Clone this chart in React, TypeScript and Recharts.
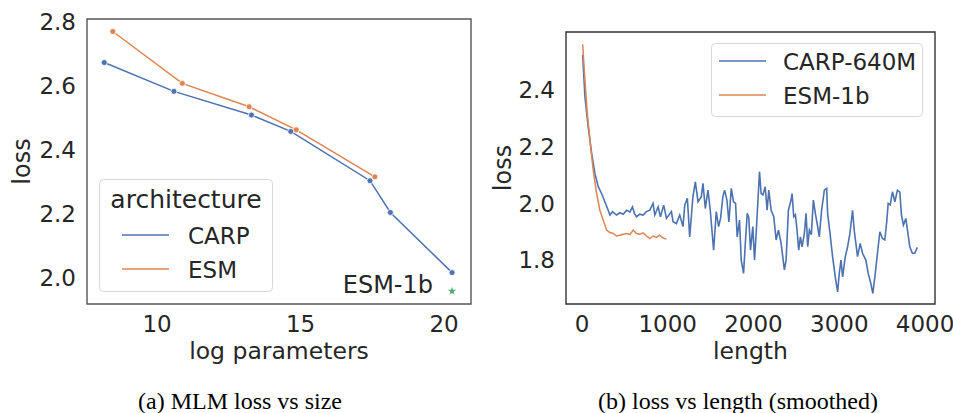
import {
  ComposedChart,
  LineChart,
  Line,
  XAxis,
  YAxis,
  Scatter,
  ReferenceArea,
  ReferenceDot,
  Legend,
  Label,
  Symbols,
} from "recharts"

// (a) MLM loss vs size
const carpLogParams = [8.16, 10.59, 13.29, 14.66, 17.42, 18.13, 20.28]
const carpLoss = [2.673, 2.583, 2.509, 2.458, 2.304, 2.205, 2.017]
const esmLogParams = [8.46, 10.88, 13.21, 14.85, 17.59]
const esmLoss = [2.77, 2.608, 2.535, 2.463, 2.316]
const esm1bLogParams = [20.28]
const esm1bLoss = [1.959]
const sizeTicksX = [10, 15, 20]
const sizeTicksY = [2.0, 2.2, 2.4, 2.6, 2.8]

// (b) loss vs length (smoothed)
const carpLength = [
  8, 35, 73, 113, 151, 190, 229, 267, 306, 326, 357, 403, 442, 481, 520, 560, 589, 612, 636, 674,
  713, 752, 791, 829, 849, 888, 915, 953, 985, 1043, 1062, 1101, 1140, 1178, 1198, 1229, 1256, 1275,
  1294, 1322, 1353, 1392, 1411, 1438, 1469, 1496, 1535, 1566, 1593, 1616, 1643, 1663, 1690, 1713,
  1741, 1767, 1791, 1810, 1837, 1857, 1884, 1907, 1927, 1945, 1965, 1992, 2012, 2031, 2050, 2070,
  2089, 2110, 2136, 2159, 2178, 2206, 2236, 2264, 2291, 2322, 2360, 2380, 2407, 2438, 2450, 2469,
  2488, 2504, 2527, 2547, 2566, 2593, 2613, 2632, 2651, 2674, 2698, 2721, 2748, 2767, 2794, 2826,
  2853, 2864, 2892, 2922, 2953, 2981, 3000, 3020, 3039, 3070, 3097, 3124, 3155, 3174, 3213, 3244,
  3271, 3310, 3337, 3368, 3391, 3415, 3445, 3473, 3504, 3531, 3555, 3570, 3593, 3620, 3648, 3678,
  3706, 3725, 3748, 3776, 3795, 3822, 3852, 3880, 3910,
]
const carpLengthLoss = [
  2.524, 2.376, 2.27, 2.177, 2.106, 2.059, 2.035, 2.006, 1.976, 1.959, 1.971, 1.959, 1.967, 1.962,
  1.976, 1.97, 1.988, 1.965, 1.953, 1.962, 1.959, 1.971, 1.976, 2.0, 1.959, 1.988, 1.953, 1.994,
  1.947, 1.971, 1.935, 1.929, 1.959, 1.918, 1.994, 2.018, 1.882, 1.953, 2.024, 2.076, 2.006, 2.024,
  2.071, 1.982, 2.047, 1.976, 1.835, 1.971, 1.918, 1.947, 2.024, 2.047, 2.012, 1.935, 2.053, 2.006,
  2.0, 1.882, 1.941, 1.8, 1.753, 1.871, 1.965, 1.95, 1.835, 1.918, 1.8, 1.894, 2.0, 2.112, 2.035,
  2.03, 2.059, 1.976, 2.047, 1.976, 1.953, 1.871, 1.906, 1.859, 1.765, 1.8, 1.976, 2.012, 2.035,
  1.953, 1.96, 1.918, 1.835, 1.882, 1.847, 1.894, 1.965, 1.847, 1.906, 1.89, 2.012, 1.965, 1.918,
  1.882, 1.976, 2.047, 2.053, 1.965, 1.894, 1.812, 1.741, 1.688, 1.753, 1.8, 1.741, 1.812, 1.847,
  1.894, 1.976, 1.906, 1.812, 1.859, 1.824, 1.8, 1.753, 1.718, 1.682, 1.741, 1.824, 1.9, 1.876,
  1.871, 1.941, 2.0, 1.995, 2.041, 2.006, 2.047, 2.04, 1.959, 1.924, 1.947, 1.906, 1.847, 1.824,
  1.824, 1.845,
]
const esmLength = [
  8, 35, 62, 93, 131, 171, 209, 248, 287, 326, 364, 403, 442, 481, 520, 559, 597, 636, 675, 713,
  752, 791, 830, 868, 907, 946, 985,
]
const esmLengthLoss = [
  2.562, 2.435, 2.318, 2.224, 2.118, 2.035, 1.976, 1.941, 1.906, 1.897, 1.894, 1.885, 1.888, 1.891,
  1.894, 1.89, 1.906, 1.894, 1.891, 1.896, 1.885, 1.876, 1.885, 1.88, 1.888, 1.878, 1.874,
]
const lengthTicksX = [0, 1000, 2000, 3000, 4000]
const lengthTicksY = [1.8, 2.0, 2.2, 2.4]

const FONT = "'DejaVu Sans', sans-serif"
const INK = "#262626"
const BLUE = "#4c72b0"
const ORANGE = "#dd8452"
const GREEN = "#55a868"

const zip = (xs: number[], ys: number[]) => xs.map((x, i) => ({ x, y: ys[i] }))

const carpSize = zip(carpLogParams, carpLoss)
const esmSize = zip(esmLogParams, esmLoss)
const esm1bSize = zip(esm1bLogParams, esm1bLoss)
const carpLen = zip(carpLength, carpLengthLoss)
const esmLen = zip(esmLength, esmLengthLoss)

const sizeX: [number, number] = [7.56, 20.94]
const sizeY: [number, number] = [1.919, 2.809]
const lenX: [number, number] = [-186, 4116]
const lenY: [number, number] = [1.645, 2.605]

const tickStyle = { fill: INK, fontSize: 23, fontFamily: FONT }
const labelStyle = { fill: INK, fontSize: 23.5, fontFamily: FONT }

type LegendBox = {
  width: number
  height: number
  title?: string
  titleY?: number
  rowY: number[]
  lineX: [number, number]
  textX: number
}

function makeLegend(box: LegendBox) {
  return (props: any) => {
    const items = (props.payload || []).filter((p: any) => p.type !== "none")
    return (
      <svg width={box.width} height={box.height} style={{ display: "block" }}>
        <rect
          x={0.5}
          y={0.5}
          width={box.width - 1}
          height={box.height - 1}
          rx={4}
          fill="#fff"
          fillOpacity={0.8}
          stroke="#d6d6d6"
        />
        {box.title && (
          <text x={box.width / 2} y={box.titleY} textAnchor="middle" fontSize={25} fontFamily={FONT} fill={INK}>
            {box.title}
          </text>
        )}
        {items.map((item: any, i: number) => (
          <g key={item.value}>
            <line x1={box.lineX[0]} x2={box.lineX[1]} y1={box.rowY[i]} y2={box.rowY[i]} stroke={item.color} strokeWidth={1.5} />
            <text x={box.textX} y={box.rowY[i] + 8.5} fontSize={23} fontFamily={FONT} fill={INK}>
              {item.value}
            </text>
          </g>
        ))}
      </svg>
    )
  }
}

const sizeLegend = makeLegend({
  width: 174,
  height: 113,
  title: "architecture",
  titleY: 29,
  rowY: [56, 90],
  lineX: [23, 70],
  textX: 89,
})

const lengthLegend = makeLegend({
  width: 212,
  height: 74,
  rowY: [18, 52],
  lineX: [8, 55],
  textX: 72,
})

export default function App() {
  return (
    <div style={{ position: "absolute", left: 0, top: 0, width: 953, height: 413, background: "#fff" }}>
      <div style={{ position: "absolute", left: 0, top: 0 }}>
        <ComposedChart width={480} height={364} margin={{ top: 19, right: 9, left: 0, bottom: 0 }}>
          <XAxis
            type="number"
            dataKey="x"
            domain={sizeX}
            ticks={sizeTicksX}
            allowDataOverflow
            height={60}
            tickLine={false}
            axisLine={false}
            tickSize={0}
            tickMargin={12}
            tick={tickStyle}
          >
            <Label value="log parameters" position="insideBottom" offset={5} style={labelStyle} />
          </XAxis>
          <YAxis
            type="number"
            domain={sizeY}
            ticks={sizeTicksY}
            allowDataOverflow
            width={87}
            tickLine={false}
            axisLine={false}
            tickSize={0}
            tickMargin={11}
            tick={tickStyle}
            tickFormatter={(v) => v.toFixed(1)}
          >
            <Label value="loss" angle={-90} position="insideLeft" offset={21} style={{ ...labelStyle, fontSize: 24, textAnchor: "middle" }} />
          </YAxis>
          <ReferenceArea x1={sizeX[0]} x2={sizeX[1]} y1={sizeY[0]} y2={sizeY[1]} fill="none" stroke="#555" strokeWidth={1.4} />
          <Line
            data={carpSize}
            dataKey="y"
            name="CARP"
            stroke={BLUE}
            strokeWidth={1.5}
            dot={{ r: 3, fill: BLUE, stroke: "#fff", strokeWidth: 0.8 }}
            activeDot={false}
            isAnimationActive={false}
          />
          <Line
            data={esmSize}
            dataKey="y"
            name="ESM"
            stroke={ORANGE}
            strokeWidth={1.5}
            dot={{ r: 3, fill: ORANGE, stroke: "#fff", strokeWidth: 0.8 }}
            activeDot={false}
            isAnimationActive={false}
          />
          <Scatter
            data={esm1bSize}
            dataKey="y"
            legendType="none"
            isAnimationActive={false}
            shape={(p: any) => <Symbols cx={p.cx} cy={p.cy} type="star" size={22} fill={GREEN} />}
          />
          <ReferenceDot
            x={esm1bLogParams[0]}
            y={esm1bLoss[0]}
            r={1}
            fill="none"
            stroke="none"
            label={{
              content: (p: any) => (
                <text x={p.viewBox.x - 18} y={p.viewBox.y + 3} textAnchor="end" fontSize={24} fontFamily={FONT} fill={INK}>
                  ESM-1b
                </text>
              ),
            }}
          />
          <Legend
            layout="vertical"
            align="center"
            verticalAlign="middle"
            content={sizeLegend}
            wrapperStyle={{ left: 99, top: 179, width: 174, height: 113 }}
          />
        </ComposedChart>
      </div>

      <div style={{ position: "absolute", left: 480, top: 0 }}>
        <LineChart width={473} height={364} margin={{ top: 32, right: 18, left: 0, bottom: 0 }}>
          <XAxis
            type="number"
            dataKey="x"
            domain={lenX}
            ticks={lengthTicksX}
            allowDataOverflow
            height={60}
            tickLine={false}
            axisLine={false}
            tickSize={0}
            tickMargin={12}
            tick={tickStyle}
          >
            <Label value="length" position="insideBottom" offset={5} style={labelStyle} />
          </XAxis>
          <YAxis
            type="number"
            domain={lenY}
            ticks={lengthTicksY}
            allowDataOverflow
            width={86}
            tickLine={false}
            axisLine={false}
            tickSize={0}
            tickMargin={11}
            tick={tickStyle}
            tickFormatter={(v) => v.toFixed(1)}
          >
            <Label value="loss" angle={-90} position="insideLeft" offset={22.5} style={{ ...labelStyle, fontSize: 24, textAnchor: "middle" }} />
          </YAxis>
          <ReferenceArea x1={lenX[0]} x2={lenX[1]} y1={lenY[0]} y2={lenY[1]} fill="none" stroke="#333" strokeWidth={1.4} />
          <Line data={carpLen} dataKey="y" name="CARP-640M" stroke={BLUE} strokeWidth={1.6} dot={false} activeDot={false} isAnimationActive={false} />
          <Line data={esmLen} dataKey="y" name="ESM-1b" stroke={ORANGE} strokeWidth={1.5} dot={false} activeDot={false} isAnimationActive={false} />
          <Legend
            layout="vertical"
            align="center"
            verticalAlign="middle"
            content={lengthLegend}
            wrapperStyle={{ left: 231, top: 43, width: 212, height: 74 }}
          />
        </LineChart>
      </div>

      <svg width={953} height={413} style={{ position: "absolute", left: 0, top: 0, pointerEvents: "none" }}>
        <g fontFamily="'Liberation Serif', 'Times New Roman', serif" fontSize={24} fill="#000" textAnchor="middle">
          <text x={240} y={409}>(a) MLM loss vs size</text>
          <text x={738} y={409}>(b) loss vs length (smoothed)</text>
        </g>
      </svg>
    </div>
  )
}
